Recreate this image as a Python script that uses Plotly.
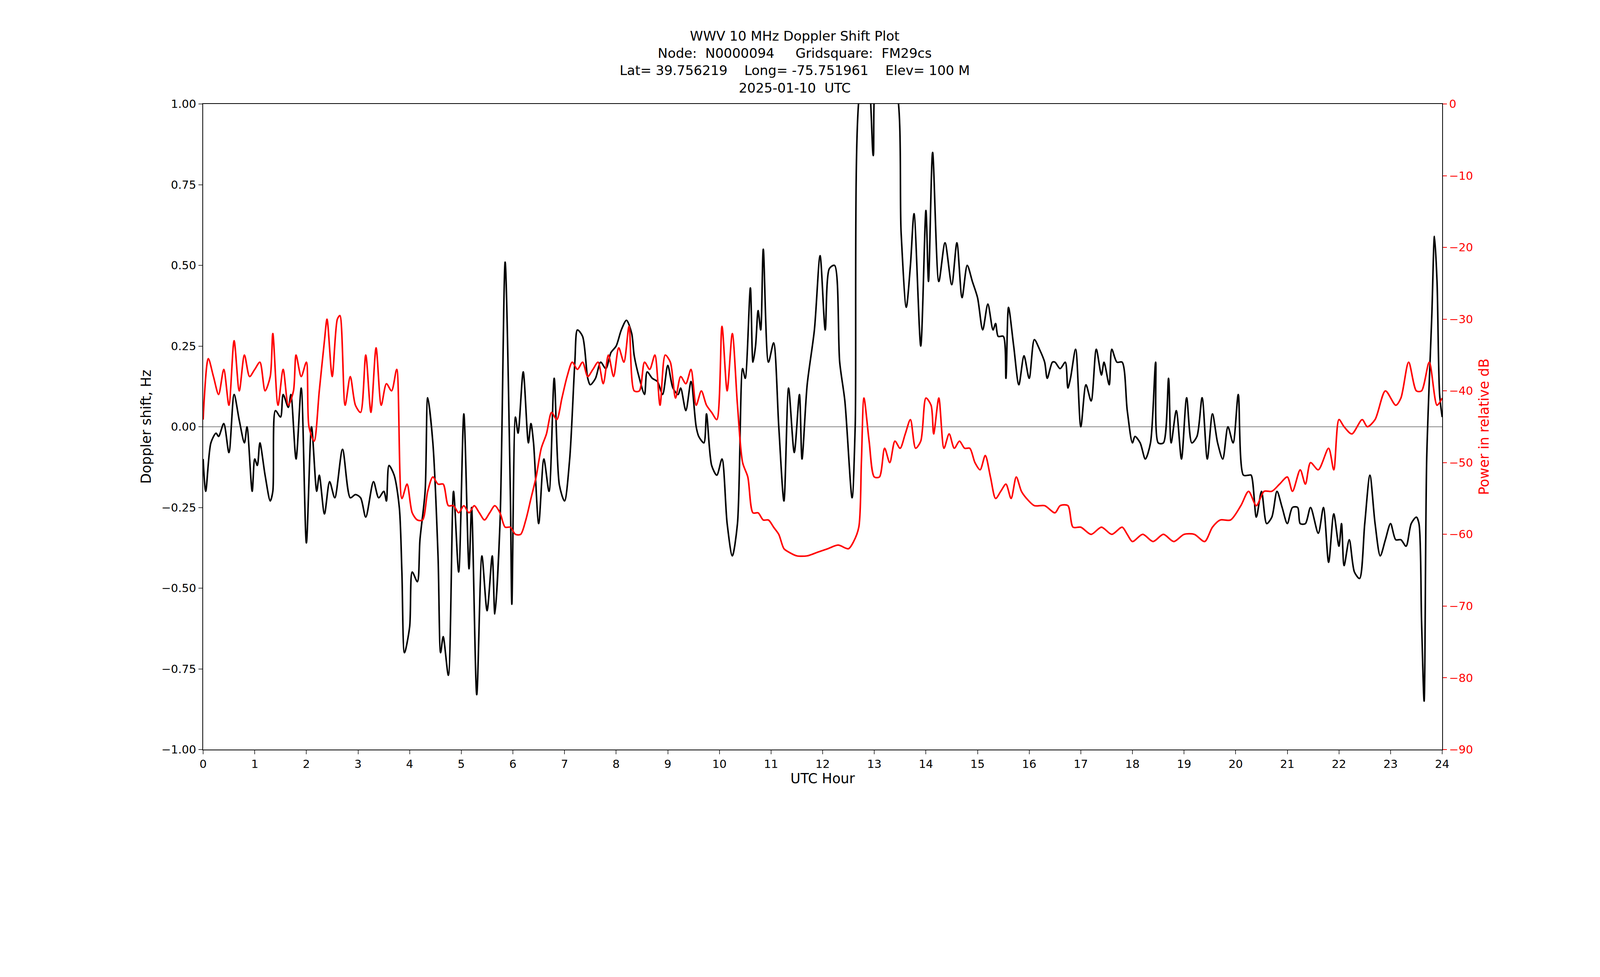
import plotly.graph_objects as go

# Doppler shift (Hz) vs UTC hour
dop_hour = [0.0,0.05,0.15,0.25,0.3,0.4,0.5,0.6,0.7,0.8,0.85,0.95,1.0,1.05,1.1,1.2,1.3,1.35,1.4,1.5,1.55,1.65,1.7,1.8,1.9,2.0,2.1,2.2,2.25,2.35,2.45,2.55,2.7,2.85,2.95,3.05,3.15,3.3,3.4,3.5,3.55,3.6,3.7,3.8,3.85,3.9,4.0,4.05,4.15,4.2,4.3,4.35,4.45,4.55,4.6,4.65,4.75,4.85,4.95,5.05,5.15,5.2,5.3,5.4,5.5,5.6,5.65,5.75,5.85,5.95,5.98,6.05,6.1,6.2,6.3,6.35,6.4,6.5,6.6,6.7,6.8,6.9,7.0,7.1,7.2,7.25,7.35,7.45,7.5,7.6,7.7,7.8,7.9,8.0,8.1,8.2,8.3,8.35,8.45,8.55,8.6,8.7,8.8,8.9,9.0,9.1,9.2,9.25,9.35,9.45,9.55,9.6,9.7,9.75,9.85,9.95,10.05,10.15,10.25,10.35,10.45,10.5,10.6,10.65,10.7,10.75,10.8,10.85,10.95,11.05,11.15,11.25,11.34,11.45,11.55,11.6,11.7,11.84,11.95,12.05,12.13,12.23,12.33,12.43,12.57,12.63,12.73,12.87,12.98,13.06,13.2,13.42,13.52,13.62,13.7,13.77,13.9,14.0,14.05,14.13,14.25,14.37,14.5,14.6,14.7,14.8,14.9,15.0,15.1,15.2,15.3,15.35,15.4,15.5,15.55,15.6,15.7,15.8,15.9,16.0,16.1,16.2,16.3,16.35,16.45,16.5,16.6,16.7,16.75,16.8,16.9,17.0,17.1,17.2,17.3,17.4,17.45,17.55,17.6,17.7,17.8,17.9,18.0,18.05,18.15,18.25,18.35,18.45,18.5,18.6,18.7,18.75,18.85,18.95,19.05,19.15,19.25,19.35,19.45,19.55,19.65,19.75,19.85,19.95,20.05,20.15,20.25,20.3,20.4,20.5,20.6,20.7,20.8,20.9,21.0,21.1,21.2,21.25,21.35,21.45,21.6,21.7,21.8,21.9,22.0,22.05,22.1,22.2,22.3,22.4,22.5,22.6,22.7,22.8,22.9,23.0,23.1,23.2,23.3,23.4,23.5,23.55,23.6,23.65,23.7,23.8,23.85,23.9,23.95,24.0]
doppler = [-0.1,-0.2,-0.05,-0.02,-0.03,0.01,-0.08,0.1,0.02,-0.05,0.0,-0.2,-0.1,-0.12,-0.05,-0.15,-0.23,-0.2,0.05,0.03,0.1,0.06,0.1,-0.1,0.12,-0.36,0.0,-0.2,-0.15,-0.27,-0.17,-0.22,-0.07,-0.22,-0.21,-0.22,-0.28,-0.17,-0.22,-0.2,-0.23,-0.12,-0.15,-0.25,-0.45,-0.7,-0.62,-0.45,-0.48,-0.35,-0.2,0.09,-0.05,-0.4,-0.7,-0.65,-0.77,-0.2,-0.45,0.04,-0.44,-0.25,-0.83,-0.4,-0.57,-0.4,-0.58,-0.3,0.51,-0.2,-0.55,0.03,-0.02,0.17,-0.05,0.01,-0.05,-0.3,-0.1,-0.2,0.15,-0.18,-0.23,-0.1,0.2,0.3,0.28,0.15,0.13,0.15,0.2,0.18,0.23,0.25,0.3,0.33,0.29,0.22,0.15,0.1,0.17,0.15,0.14,0.1,0.19,0.12,0.1,0.12,0.05,0.14,0.0,-0.03,-0.05,0.04,-0.12,-0.15,-0.1,-0.3,-0.4,-0.3,0.18,0.15,0.43,0.2,0.25,0.36,0.3,0.55,0.2,0.26,0.0,-0.23,0.12,-0.08,0.1,-0.1,0.13,0.3,0.53,0.3,0.49,0.5,0.2,0.08,-0.22,0.0,1.05,1.1,0.84,1.1,1.1,1.05,0.6,0.37,0.5,0.66,0.25,0.67,0.45,0.85,0.45,0.57,0.44,0.57,0.4,0.5,0.45,0.4,0.3,0.38,0.3,0.32,0.28,0.28,0.15,0.37,0.25,0.13,0.22,0.15,0.27,0.24,0.2,0.15,0.2,0.2,0.18,0.2,0.12,0.15,0.24,0.0,0.13,0.08,0.24,0.16,0.2,0.13,0.24,0.2,0.2,0.05,-0.05,-0.03,-0.05,-0.1,-0.05,0.2,-0.05,-0.05,0.15,-0.05,0.05,-0.1,0.09,-0.05,-0.03,0.09,-0.1,0.04,-0.05,-0.1,0.0,-0.05,0.1,-0.15,-0.15,-0.15,-0.28,-0.2,-0.3,-0.28,-0.2,-0.25,-0.3,-0.25,-0.25,-0.3,-0.3,-0.25,-0.33,-0.25,-0.42,-0.27,-0.37,-0.3,-0.43,-0.35,-0.45,-0.47,-0.3,-0.15,-0.3,-0.4,-0.35,-0.3,-0.35,-0.35,-0.37,-0.3,-0.28,-0.3,-0.6,-0.85,-0.1,0.35,0.59,0.45,0.1,0.03]

# Received power (relative dB) vs UTC hour
pwr_hour = [0.0,0.1,0.2,0.3,0.4,0.5,0.6,0.7,0.8,0.9,1.0,1.1,1.2,1.3,1.35,1.45,1.55,1.65,1.75,1.8,1.9,2.0,2.05,2.15,2.25,2.35,2.4,2.5,2.6,2.65,2.75,2.85,2.95,3.05,3.15,3.25,3.35,3.45,3.55,3.65,3.75,3.85,3.95,4.05,4.15,4.25,4.35,4.45,4.55,4.65,4.75,4.85,4.95,5.05,5.15,5.25,5.35,5.45,5.55,5.65,5.75,5.85,5.95,6.05,6.15,6.25,6.35,6.45,6.55,6.65,6.75,6.85,6.95,7.05,7.15,7.25,7.35,7.45,7.55,7.65,7.75,7.85,7.95,8.05,8.15,8.25,8.35,8.45,8.55,8.65,8.75,8.85,8.95,9.05,9.15,9.25,9.35,9.45,9.55,9.65,9.75,9.85,9.95,10.05,10.15,10.25,10.35,10.45,10.55,10.65,10.75,10.85,10.95,11.05,11.15,11.25,11.35,11.5,11.7,11.9,12.1,12.3,12.5,12.6,12.7,12.75,12.8,12.9,13.0,13.1,13.2,13.3,13.4,13.5,13.6,13.7,13.8,13.9,14.0,14.1,14.15,14.25,14.35,14.45,14.55,14.65,14.75,14.85,14.95,15.05,15.15,15.25,15.35,15.45,15.55,15.65,15.75,15.85,15.95,16.1,16.3,16.5,16.6,16.75,16.85,17.0,17.2,17.4,17.6,17.8,17.9,18.0,18.2,18.4,18.6,18.8,19.0,19.2,19.4,19.55,19.7,19.9,20.1,20.25,20.4,20.55,20.7,20.85,21.0,21.1,21.25,21.35,21.45,21.6,21.8,21.9,22.0,22.1,22.25,22.45,22.55,22.7,22.9,23.1,23.2,23.35,23.5,23.6,23.75,23.9,24.0]
power = [-44,-35.5,-38,-40.5,-37,-42,-33,-40,-35,-38,-37,-36,-40,-38,-32,-42,-37,-42,-40,-35,-38,-36,-45,-47,-40,-33,-30,-38,-30,-29.5,-42,-38,-42,-43,-35,-43,-34,-42,-39,-40,-37,-55,-53,-57,-58,-58,-54,-52,-53,-53,-56,-56,-57,-56,-57,-56,-57,-58,-57,-56,-57,-59,-59,-60,-60,-58,-55,-52,-48,-46,-43,-44,-41,-38,-36,-37,-36,-38,-37,-36,-39,-35,-38,-34,-36,-31,-40,-40,-36,-37,-35,-42,-35,-36,-41,-38,-39,-37,-42,-40,-42,-43,-44,-31,-40,-32,-42,-50,-52,-57,-57,-58,-58,-59,-60,-62,-62.5,-63,-63,-62.5,-62,-61.5,-62,-61,-59,-50,-41,-47,-52,-52,-48,-50,-47,-48,-46,-44,-48,-47,-41,-42,-46,-41,-48,-46,-48,-47,-48,-48,-50,-51,-49,-52,-55,-54,-53,-55,-52,-54,-55,-56,-56,-57,-56,-56,-59,-59,-60,-59,-60,-59,-60,-61,-60,-61,-60,-61,-60,-60,-61,-59,-58,-58,-56,-54,-56,-54,-54,-53,-52,-54,-51,-53,-50,-51,-48,-51,-44,-45,-46,-44,-45,-44,-40,-42,-41,-36,-40,-40,-36,-42,-41]

hour_ticks = list(range(25))
dop_ticks = [-1.0, -0.75, -0.5, -0.25, 0.0, 0.25, 0.5, 0.75, 1.0]
pwr_ticks = [0, -10, -20, -30, -40, -50, -60, -70, -80, -90]

fig = go.Figure()
fig.add_trace(go.Scatter(x=[0, 24], y=[0, 0], mode="lines",
                         line=dict(color="#999999", width=2.5), showlegend=False))
fig.add_trace(go.Scatter(x=pwr_hour, y=power, mode="lines", yaxis="y2",
                         line=dict(color="red", width=4, shape="spline", smoothing=0.8),
                         showlegend=False))
fig.add_trace(go.Scatter(x=dop_hour, y=doppler, mode="lines",
                         line=dict(color="black", width=4, shape="spline", smoothing=0.8),
                         showlegend=False))

font = dict(family="DejaVu Sans", size=29, color="black")
fig.update_layout(
    width=4053, height=2133,
    paper_bgcolor="white", plot_bgcolor="white",
    margin=dict(l=512, r=369, t=258, b=223),
    font=font,
    title=dict(text="WWV 10 MHz Doppler Shift Plot<br>Node:  N0000094     Gridsquare:  FM29cs<br>"
                    "Lat= 39.756219    Long= -75.751961    Elev= 100 M<br>2025-01-10  UTC",
               x=0.5, xanchor="center", y=0.955, yanchor="top", font=dict(size=34)),
    xaxis=dict(range=[0, 24], tickvals=hour_ticks, showgrid=False, zeroline=False,
               showline=True, linecolor="black", linewidth=2, mirror=True,
               ticks="outside", ticklen=10, tickwidth=2,
               title=dict(text="UTC Hour", standoff=8)),
    yaxis=dict(range=[-1, 1], tickvals=dop_ticks, tickformat=".2f", showgrid=False,
               zeroline=False, showline=True, linecolor="black", linewidth=2,
               ticks="outside", ticklen=10, tickwidth=2,
               title=dict(text="Doppler shift, Hz", standoff=16)),
    yaxis2=dict(range=[-90, 0], tickvals=pwr_ticks, overlaying="y", side="right",
                showgrid=False, zeroline=False, showline=True, linecolor="black", linewidth=2,
                ticks="outside", ticklen=10, tickwidth=2, tickcolor="red",
                tickfont=dict(color="red"),
                title=dict(text="Power in relative dB", font=dict(color="red"), standoff=16)),
)
fig.write_html("out.html")
